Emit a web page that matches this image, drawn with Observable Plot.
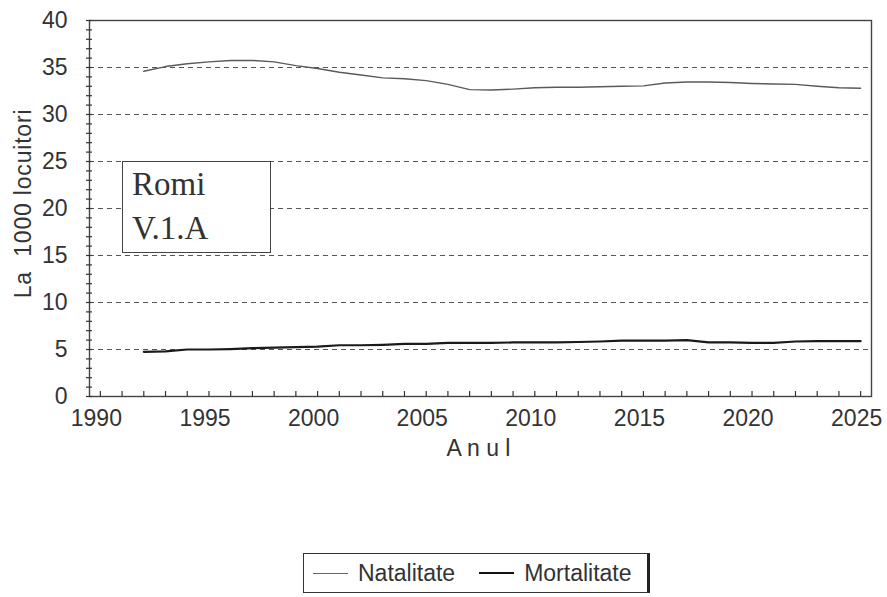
<!DOCTYPE html>
<html><head><meta charset="utf-8">
<script src="https://cdn.jsdelivr.net/npm/d3@7"></script>
<script src="https://cdn.jsdelivr.net/npm/@observablehq/plot@0.6"></script>
<style>
html,body{margin:0;padding:0;background:#fff;}
#wrap{position:relative;width:887px;height:597px;font-family:"Liberation Sans",Arial,sans-serif;color:#333;overflow:hidden;}
#chart{position:absolute;left:0;top:0;}
#box{position:absolute;left:122px;top:161px;width:149px;height:92px;box-sizing:border-box;border:1.5px solid #444;background:#fff;
 font-family:"Liberation Serif","Times New Roman",serif;font-size:33px;line-height:44px;padding:0 0 0 9px;color:#333;}
#legend{position:absolute;left:303px;top:553px;width:347px;height:40px;box-sizing:border-box;border:1px solid #333;border-right:3px solid #222;border-bottom:1.5px solid #333;
 display:flex;align-items:center;padding-left:9px;font-size:23px;color:#333;background:#fff;}
.sw{display:inline-block;width:35px;margin-right:10px;}
</style>
</head><body>
<div id="wrap">
 <div id="chart"></div>
 <div id="box">Romi<br>V.1.A</div>
 <div id="legend">
  <span class="sw" style="border-top:1.5px solid #666"></span><span>Natalitate</span>
  <span class="sw" style="border-top:2.2px solid #111;margin-left:24px"></span><span>Mortalitate</span>
 </div>
</div>
<script>
const seriesNames = ["Natalitate", "Mortalitate"];
const years = [1992,1993,1994,1995,1996,1997,1998,1999,2000,2001,2002,2003,2004,2005,2006,2007,2008,2009,2010,2011,2012,2013,2014,2015,2016,2017,2018,2019,2020,2021,2022,2023,2024,2025];
const natalitate = [34.6,35.1,35.4,35.6,35.75,35.75,35.6,35.2,34.9,34.5,34.2,33.9,33.8,33.6,33.2,32.65,32.6,32.7,32.85,32.9,32.9,32.95,33.0,33.05,33.35,33.45,33.45,33.4,33.3,33.25,33.2,33.0,32.85,32.8];
const mortalitate = [4.75,4.8,5.0,5.0,5.05,5.15,5.2,5.25,5.3,5.45,5.45,5.5,5.6,5.6,5.7,5.7,5.7,5.75,5.75,5.75,5.8,5.85,5.95,5.95,5.95,6.0,5.75,5.75,5.7,5.7,5.85,5.9,5.9,5.9];
const xTickLabels = [1990,1995,2000,2005,2010,2015,2020,2025];
const yTickLabels = [0,5,10,15,20,25,30,35,40];
const gridValues = [5,10,15,20,25,30,35];
const yTitle = "La\u00a0\u00a01000\u00a0locuitori";
const xTitle = "A n u l";

const data = years.map((y, i) => ({year: y, nat: natalitate[i], mort: mortalitate[i]}));
const minorX = d3.range(1990, 2026);
const minorY = d3.range(0, 41);
const fmt = d => String(d);

const chart = Plot.plot({
  width: 887, height: 470,
  marginLeft: 89, marginRight: 16, marginTop: 20, marginBottom: 74,
  style: {fontFamily: "'Liberation Sans', Arial, sans-serif", color: "#333", background: "transparent"},
  x: {domain: [1989.5, 2025.5]},
  y: {domain: [0, 40]},
  marks: [
    Plot.ruleY(gridValues, {stroke: "#555", strokeDasharray: "5,4", strokeWidth: 1.2}),
    Plot.frame({stroke: "#444", strokeWidth: 1.4}),
    Plot.axisY(minorY, {tickSize: 6, dx: 3, tickFormat: () => "", label: null, stroke: "#333", strokeWidth: 1.2}),
    Plot.axisY(yTickLabels, {tickSize: 0, tickPadding: 22, fontSize: 23, tickFormat: fmt, label: null}),
    Plot.axisX(minorX, {tickSize: 5, dy: -5, tickFormat: () => "", label: null, stroke: "#333", strokeWidth: 1.2}),
    Plot.axisX(xTickLabels, {tickSize: 0, tickPadding: 13, fontSize: 23, dx: -4, tickFormat: fmt, label: null}),
    Plot.line(data, {x: "year", y: "nat", stroke: "#5a5a5a", strokeWidth: 1.4}),
    Plot.line(data, {x: "year", y: "mort", stroke: "#1a1a1a", strokeWidth: 2.2}),
    Plot.text([yTitle], {frameAnchor: "left", textAnchor: "middle", rotate: -90, dx: -66, dy: -5, fontSize: 23}),
    Plot.text([xTitle], {frameAnchor: "bottom", lineAnchor: "bottom", dy: 59, dx: -2, fontSize: 23})
  ]
});
document.getElementById("chart").appendChild(chart);
d3.select(chart).selectAll("text").filter(function(){ return this.textContent === yTitle; }).style("letter-spacing", "0.8px");
</script>
</body></html>
